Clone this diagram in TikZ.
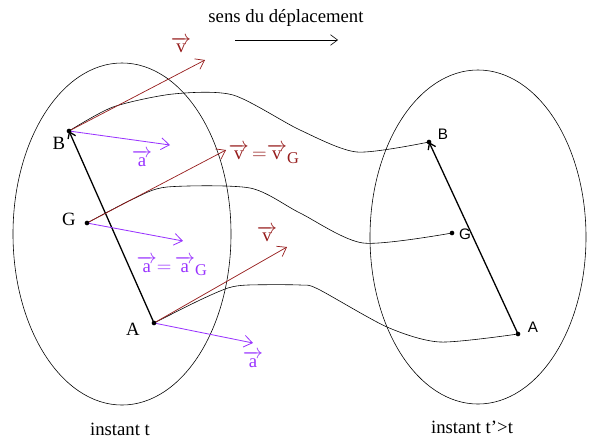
\documentclass[tikz,border=0pt]{standalone}
\usepackage{amsmath}
\usepackage{fontspec}
\setmainfont{Liberation Serif}
\setsansfont{Liberation Sans}
\usetikzlibrary{arrows.meta}
\definecolor{vred}{RGB}{150,28,28}
\definecolor{apurple}{RGB}{153,51,255}

\begin{document}
\begin{tikzpicture}[x=0.03cm, y=-0.03cm, font=\fontsize{16}{18}\selectfont]
\tikzset{
  traj/.style={black, line width=0.5pt, smooth, tension=0.45},
  seg/.style={-{Straight Barb[length=5pt, width=7pt]}, line width=1.1pt},
  vel/.style={vred, line width=0.6pt, -{Straight Barb[length=7pt, width=10pt]}},
  acc/.style={apurple, line width=0.7pt, -{Straight Barb[length=7pt, width=10pt]}},
  pt/.style={fill=black, circle, inner sep=1.4pt},
  rname/.style={font=\sffamily\fontsize{13}{15}\selectfont},
}
\useasboundingbox (0,0) rectangle (593,439);

% the two positions of the body
\draw[line width=0.5pt] (122,234) ellipse [x radius=3.27cm, y radius=5.13cm];
\draw[line width=0.5pt] (478,237) ellipse [x radius=3.24cm, y radius=5.01cm];

% points at instant t
\coordinate (B) at (69,131);
\coordinate (G) at (87,223);
\coordinate (A) at (154,323);
% points at instant t'
\coordinate (B2) at (429,142);
\coordinate (G2) at (452,233);
\coordinate (A2) at (518,334);

% trajectories
\draw[traj] plot coordinates {(B) (113,107) (173,94) (233,95) (300,130) (357,152) (B2)};
\draw[traj] plot coordinates {(G) (133,199) (167,187) (250,188) (300,213) (363,243) (G2)};
\draw[traj] plot coordinates {(A) (200,300) (228,288) (248,285) (300,285) (318,289) (387,327) (440,342) (A2)};

% segment AB
\draw[seg] (A) -- (B);
\draw[seg] (A2) -- (B2);

% velocities
\coordinate (vB) at (205,60);
\coordinate (vG) at (226,150);
\coordinate (vA) at (287,247);
\draw[vel] (B) -- (vB);
\draw[vel] (G) -- (vG);
\draw[vel] (A) -- (vA);
\node[vred] (lvB) at (181,45) {$\overrightarrow{\text{v}}$};
\node[vred, inner sep=1pt] (lvG) at (264,154) {$\overrightarrow{\text{v}}\,{=}\overrightarrow{\text{v}}_{\text{\fontsize{14}{14}\selectfont G}}$};
\node[vred] (lvA) at (267,234) {$\overrightarrow{\text{v}}$};

% accelerations
\coordinate (aB) at (170,145);
\coordinate (aG) at (183,241);
\coordinate (aA) at (253,343);
\draw[acc] (B) -- (aB);
\draw[acc] (G) -- (aG);
\draw[acc] (A) -- (aA);
\node[apurple] (laB) at (142,158) {$\overrightarrow{\text{a}}$};
\node[apurple, inner sep=1pt] (laG) at (172,266) {$\overrightarrow{\text{a}}{=}\,\overrightarrow{\text{a}}_{\text{\fontsize{14}{14}\selectfont G}}$};
\node[apurple] (laA) at (253,359) {$\overrightarrow{\text{a}}$};

% dots and names
\foreach \p in {B,G,A,B2,G2,A2} \node[pt] at (\p) {};
\node (nB) at (59,143) {B};
\node (nG) at (69,219) {G};
\node (nA) at (133,329) {A};
\node[rname] (nB2) at (443,134) {B};
\node[rname] (nG2) at (465,234) {G};
\node[rname] (nA2) at (533,327) {A};

% direction of motion
\node (sens) at (286,18) {sens du déplacement};
\coordinate (d1) at (235,40);
\coordinate (d2) at (338,40);
\draw[-{Straight Barb[length=6pt, width=9pt]}, line width=0.5pt] (d1) -- (d2);

\node (tt) at (120,429) {instant t};
\node (tt2) at (472,427) {instant t'>t};
\end{tikzpicture}
\end{document}
